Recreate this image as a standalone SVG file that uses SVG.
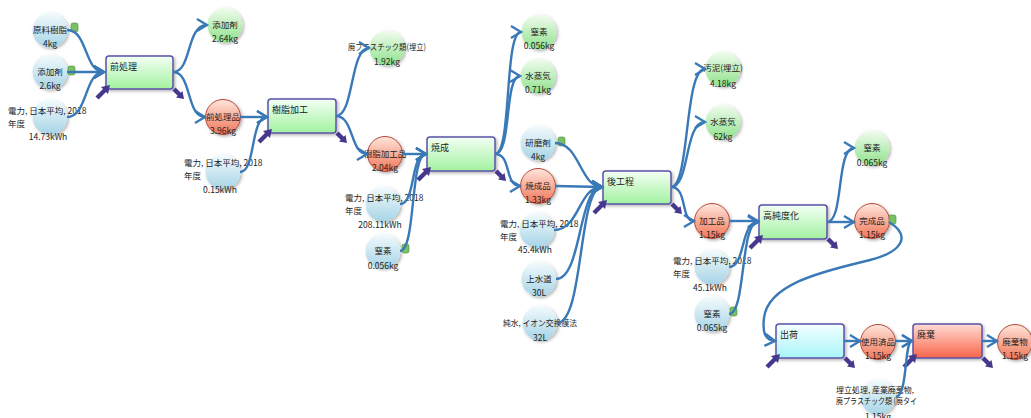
<svg xmlns="http://www.w3.org/2000/svg" xmlns:xlink="http://www.w3.org/1999/xlink" width="1031" height="418" viewBox="0 0 1031 418">
<style>
text{font-family:"Noto Sans CJK JP","Noto Sans",sans-serif;font-size:8.5px;fill:#222}
.c{text-anchor:middle}
.bl{font-size:9px}
.con path{fill:none;stroke:#3a79b7;stroke-width:2.4;marker-end:url(#ah)}
.nb{fill:url(#gb);filter:url(#sh)}
.ng{fill:url(#gg);filter:url(#sh)}
.nr{fill:url(#gr);stroke:#b34a3c;stroke-width:1;filter:url(#sh)}
.box{stroke:#5b52a8;stroke-width:1.5;filter:url(#sh)}
.ic{fill:#79c063;stroke:#4b8a3d;stroke-width:0.6}
</style>
<defs>
<filter id="sh" x="-30%" y="-30%" width="170%" height="170%"><feDropShadow dx="1.5" dy="1.5" stdDeviation="1.5" flood-color="#000" flood-opacity="0.3"/></filter>
<linearGradient id="gb" x1="0" y1="0" x2="0" y2="1"><stop offset="0" stop-color="#f4fbfd"/><stop offset="1" stop-color="#a6d4e6"/></linearGradient>
<linearGradient id="gg" x1="0" y1="0" x2="0" y2="1"><stop offset="0" stop-color="#f2fcf0"/><stop offset="1" stop-color="#8fe28a"/></linearGradient>
<linearGradient id="gr" x1="0" y1="0" x2="0" y2="1"><stop offset="0" stop-color="#ffe6dc"/><stop offset="1" stop-color="#f07658"/></linearGradient>
<linearGradient id="bg" x1="0" y1="0" x2="0" y2="1"><stop offset="0" stop-color="#f4fff4"/><stop offset="1" stop-color="#a2f2a0"/></linearGradient>
<linearGradient id="bc" x1="0" y1="0" x2="0" y2="1"><stop offset="0" stop-color="#f4ffff"/><stop offset="1" stop-color="#a8f4f8"/></linearGradient>
<linearGradient id="br" x1="0" y1="0" x2="0" y2="1"><stop offset="0" stop-color="#ffdcd4"/><stop offset="1" stop-color="#f8644a"/></linearGradient>
<marker id="ah" markerUnits="userSpaceOnUse" markerWidth="16" markerHeight="16" refX="10" refY="6" orient="auto" viewBox="-2 -2 16 16"><path d="M0,0 L10,6 L0,12" fill="none" stroke="#3a79b7" stroke-width="2.3" stroke-linejoin="miter"/></marker>
<g id="cl"><path d="M-9,9 L-1,1" stroke="#46388c" stroke-width="4.5"/><polygon points="4,-4 2,5 -5,-2" fill="#46388c"/></g>
<g id="cr"><path d="M0,0 L6,6" stroke="#46388c" stroke-width="4.5"/><polygon points="10,10 8.5,2 2,8.5" fill="#46388c"/></g>
<rect id="icon" x="0" y="0" width="7" height="9" rx="2"/>
</defs>
<rect width="1031" height="418" fill="#fff"/>

<g id="n1"><circle class="nb" cx="50" cy="30" r="17.5"/><text class="c" x="50" y="33">原料樹脂</text><text class="c" x="50" y="47">4kg</text><use href="#icon" class="ic" x="71" y="23"/></g>
<g id="n2"><circle class="nb" cx="50" cy="72" r="17.5"/><text class="c" x="50" y="75">添加剤</text><text class="c" x="50" y="89">2.6kg</text><use href="#icon" class="ic" x="68" y="66"/></g>
<g id="n3"><circle class="nb" cx="50" cy="117" r="17.5"/><text x="8" y="114">電力, 日本平均, 2018</text><text x="8" y="127">年度</text><text class="c" x="48" y="140">14.73kWh</text></g>
<g id="b1"><rect class="box" x="106" y="56" width="67" height="33" rx="3" fill="url(#bg)"/><text class="bl" x="110" y="70">前処理</text><use href="#cl" x="106" y="89"/><use href="#cr" x="174" y="89"/></g>
<g id="n4"><circle class="ng" cx="225" cy="25" r="17.5"/><text class="c" x="225" y="28">添加剤</text><text class="c" x="225" y="42">2.64kg</text></g>
<g id="n5"><circle class="nr" cx="223" cy="117" r="17.5"/><text class="c" x="223" y="120">前処理品</text><text class="c" x="223" y="134">3.96kg</text></g>
<g id="n6"><circle class="nb" cx="223" cy="172" r="17.5"/><text x="184" y="166">電力, 日本平均, 2018</text><text x="184" y="179">年度</text><text class="c" x="220" y="193">0.15kWh</text></g>
<g id="b2"><rect class="box" x="268" y="99" width="68" height="34" rx="3" fill="url(#bg)"/><text class="bl" x="272" y="113">樹脂加工</text><use href="#cl" x="268" y="133"/><use href="#cr" x="337" y="133"/></g>
<g id="n7"><circle class="ng" cx="387" cy="48" r="17.5"/><text class="c" x="387" y="50" textLength="78" lengthAdjust="spacingAndGlyphs">廃プラスチック類(埋立)</text><text class="c" x="387" y="65">1.92kg</text></g>
<g id="n8"><circle class="nr" cx="385" cy="154" r="17.5"/><text class="c" x="385" y="157">樹脂加工品</text><text class="c" x="385" y="171">2.04kg</text></g>
<g id="n9"><circle class="nb" cx="383" cy="204" r="17.5"/><text x="345" y="201">電力, 日本平均, 2018</text><text x="345" y="214">年度</text><text class="c" x="380" y="228">208.11kWh</text></g>
<g id="n10"><circle class="nb" cx="383" cy="251" r="17.5"/><text class="c" x="383" y="254">窒素</text><text class="c" x="383" y="269">0.056kg</text><use href="#icon" class="ic" x="402" y="244"/></g>
<g id="b3"><rect class="box" x="427" y="137" width="68" height="34" rx="3" fill="url(#bg)"/><text class="bl" x="431" y="151">焼成</text><use href="#cl" x="427" y="171"/><use href="#cr" x="496" y="171"/></g>
<g id="n11"><circle class="ng" cx="539" cy="32" r="17.5"/><text class="c" x="539" y="35">窒素</text><text class="c" x="539" y="49">0.056kg</text></g>
<g id="n12"><circle class="ng" cx="538" cy="76" r="17.5"/><text class="c" x="538" y="79">水蒸気</text><text class="c" x="538" y="93">0.71kg</text></g>
<g id="n13"><circle class="nb" cx="538" cy="143" r="17.5"/><text class="c" x="538" y="146">研磨剤</text><text class="c" x="538" y="160">4kg</text><use href="#icon" class="ic" x="558" y="137"/></g>
<g id="n14"><circle class="nr" cx="538" cy="186" r="17.5"/><text class="c" x="538" y="189">焼成品</text><text class="c" x="538" y="203">1.33kg</text></g>
<g id="n15"><circle class="nb" cx="537" cy="230" r="17.5"/><text x="500" y="227">電力, 日本平均, 2018</text><text x="500" y="240">年度</text><text class="c" x="535" y="253">45.4kWh</text></g>
<g id="n16"><circle class="nb" cx="539" cy="279" r="17.5"/><text class="c" x="539" y="282">上水道</text><text class="c" x="539" y="296">30L</text></g>
<g id="n17"><circle class="nb" cx="540" cy="323" r="17.5"/><text class="c" x="540" y="326" textLength="74" lengthAdjust="spacingAndGlyphs">純水, イオン交換膜法</text><text class="c" x="540" y="341">32L</text></g>
<g id="b4"><rect class="box" x="603" y="171" width="68" height="33" rx="3" fill="url(#bg)"/><text class="bl" x="607" y="185">後工程</text><use href="#cl" x="603" y="204"/><use href="#cr" x="672" y="204"/></g>
<g id="n18"><circle class="ng" cx="723" cy="69" r="17.5"/><text class="c" x="723" y="71">汚泥(埋立)</text><text class="c" x="723" y="87">4.18kg</text></g>
<g id="n19"><circle class="ng" cx="723" cy="122" r="17.5"/><text class="c" x="723" y="125">水蒸気</text><text class="c" x="723" y="140">62kg</text></g>
<g id="n20"><circle class="nr" cx="712" cy="221" r="17.5"/><text class="c" x="712" y="224">加工品</text><text class="c" x="712" y="238">1.15kg</text></g>
<g id="n21"><circle class="nb" cx="712" cy="267" r="17.5"/><text x="673" y="264">電力, 日本平均, 2018</text><text x="673" y="277">年度</text><text class="c" x="710" y="291">45.1kWh</text></g>
<g id="n22"><circle class="nb" cx="712" cy="314" r="17.5"/><text class="c" x="712" y="317">窒素</text><text class="c" x="712" y="331">0.065kg</text><use href="#icon" class="ic" x="730" y="307"/></g>
<g id="b5"><rect class="box" x="759" y="205" width="68" height="34" rx="3" fill="url(#bg)"/><text class="bl" x="763" y="219">高純度化</text><use href="#cl" x="759" y="239"/><use href="#cr" x="828" y="239"/></g>
<g id="n23"><circle class="ng" cx="872" cy="148" r="17.5"/><text class="c" x="872" y="151">窒素</text><text class="c" x="872" y="166">0.065kg</text></g>
<g id="n24"><circle class="nr" cx="872" cy="221" r="17.5"/><text class="c" x="872" y="224">完成品</text><text class="c" x="872" y="238">1.15kg</text><use href="#icon" class="ic" x="889" y="215"/></g>
<g id="b6"><rect class="box" x="776" y="324" width="68" height="34" rx="3" fill="url(#bc)"/><text class="bl" x="780" y="338">出荷</text><use href="#cl" x="776" y="358"/><use href="#cr" x="845" y="358"/></g>
<g id="n25"><circle class="nr" cx="878" cy="342" r="17.5"/><text class="c" x="878" y="345">使用済品</text><text class="c" x="878" y="359">1.15kg</text></g>
<g id="b7"><rect class="box" x="913" y="324" width="69" height="34" rx="3" fill="url(#br)"/><text class="bl" x="917" y="338">廃棄</text><use href="#cl" x="913" y="358"/><use href="#cr" x="983" y="358"/></g>
<g id="n26"><circle class="nr" cx="1015" cy="342" r="17.5"/><text class="c" x="1015" y="345">廃棄物</text><text class="c" x="1015" y="359">1.15kg</text></g>
<g id="n27"><circle class="nb" cx="878" cy="397" r="17.5"/><text x="836" y="393" textLength="78" lengthAdjust="spacingAndGlyphs">埋立処理, 産業廃棄物,</text><text x="836" y="404" textLength="81" lengthAdjust="spacingAndGlyphs">廃プラスチック類 (廃タイ</text><text class="c" x="878" y="420">1.15kg</text></g>

<g id="connectors" class="con">
<path d="M67,30 C88,30 84,72 104,72"/>
<path d="M67,72 L104,72"/>
<path d="M67,117 C88,117 84,72 104,72"/>
<path d="M173,72 C192,72 186,25 207,25"/>
<path d="M173,72 C192,72 186,117 205,117"/>
<path d="M240,117 L267,117"/>
<path d="M240,172 C256,172 250,117 267,117"/>
<path d="M336,116 C354,116 350,48 369,48"/>
<path d="M336,116 C354,116 350,154 367,154"/>
<path d="M402,154 L426,154"/>
<path d="M400,204 C416,204 410,154 426,154"/>
<path d="M400,251 C416,251 410,154 426,154"/>
<path d="M495,154 C512,154 504,32 521,32"/>
<path d="M495,154 C512,154 504,76 520,76"/>
<path d="M495,154 C512,154 504,186 520,186"/>
<path d="M555,143 C580,143 580,187 602,187"/>
<path d="M555,186 L602,187"/>
<path d="M554,230 C580,230 578,187 602,187"/>
<path d="M556,279 C582,279 578,187 602,187"/>
<path d="M557,323 C584,323 578,187 602,187"/>
<path d="M671,187 C690,187 684,69 705,69"/>
<path d="M671,187 C690,187 684,122 705,122"/>
<path d="M671,187 C688,187 680,221 694,221"/>
<path d="M729,221 L758,221"/>
<path d="M729,267 C746,267 740,222 758,222"/>
<path d="M729,314 C746,314 740,222 758,222"/>
<path d="M827,222 C844,222 836,148 854,148"/>
<path d="M827,222 L854,222"/>
<path d="M889,222 C912,236 902,252 870,260 C830,270 768,282 764,318 C762,334 766,340 775,341"/>
<path d="M844,341 L860,341"/>
<path d="M895,341 L912,341"/>
<path d="M896,397 C908,395 904,341 912,341"/>
<path d="M982,341 L997,341"/>
</g>
</svg>
